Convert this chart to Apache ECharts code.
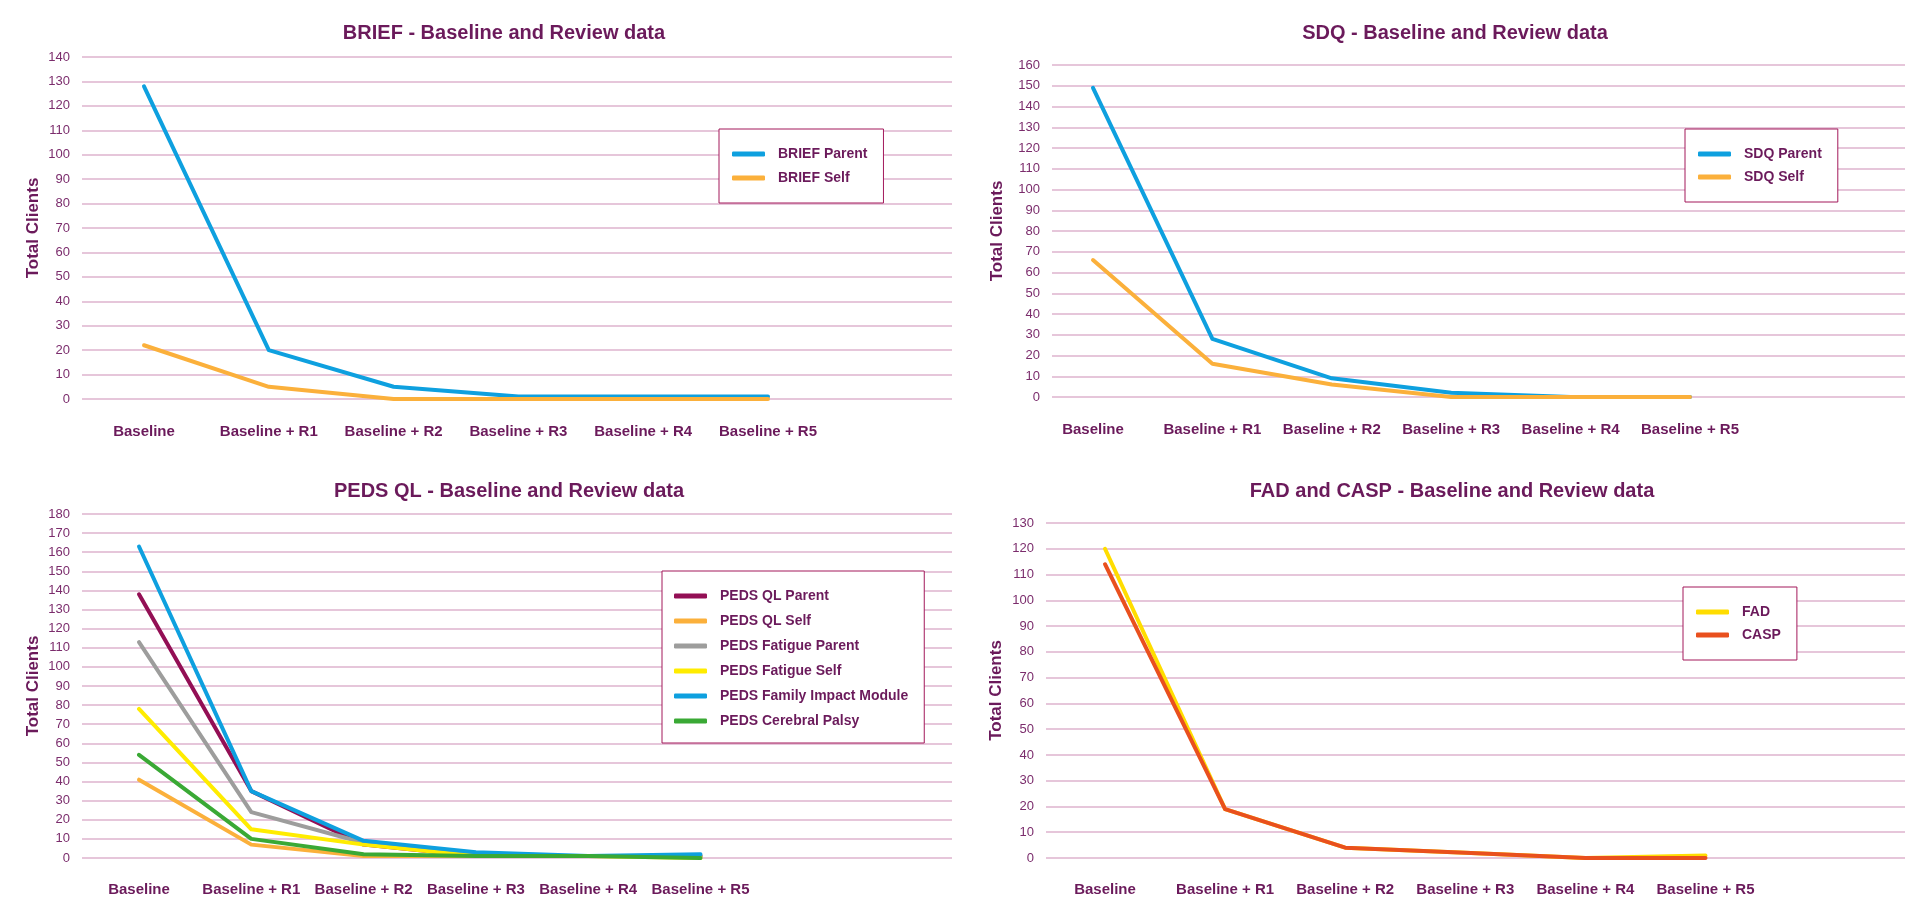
<!DOCTYPE html>
<html>
<head>
<meta charset="utf-8">
<title>Baseline and Review data</title>
<script src="https://cdn.jsdelivr.net/npm/echarts@6/dist/echarts.min.js"></script>
<style>
  html, body { margin: 0; padding: 0; background: #ffffff; }
  #chart { width: 1905px; height: 898px; }
</style>
</head>
<body>
<div id="chart"></div>
<script>
// Review points shared by all four panels
const categories = ['Baseline', 'Baseline + R1', 'Baseline + R2', 'Baseline + R3', 'Baseline + R4', 'Baseline + R5'];

// BRIEF
const briefParent = [128, 20, 5, 1, 1, 1];
const briefSelf = [22, 5, 0, 0, 0, 0];

// SDQ
const sdqParent = [149, 28, 9, 2, 0, 0];
const sdqSelf = [66, 16, 6, 0, 0, 0];

// PEDS QL
const pedsQlParent = [138, 35, 7, 1, 1, 1];
const pedsQlSelf = [41, 7, 1, 1, 1, 1];
const pedsFatigueParent = [113, 24, 8, 1, 1, 1];
const pedsFatigueSelf = [78, 15, 7, 1, 1, 0];
const pedsFamilyImpact = [163, 35, 9, 3, 1, 2];
const pedsCerebralPalsy = [54, 10, 2, 1, 1, 0];

// FAD and CASP
const fad = [120, 19, 4, 2, 0, 1];
const casp = [114, 19, 4, 2, 0, 0];

// Value-axis ceilings (ticks every 10 from 0)
const yMaxes = [140, 160, 180, 130];
const yStep = 10;

const FONT = '"Liberation Sans", Arial, sans-serif';
const TEXT = '#6b1a5b';
const TICK = '#7b2c6c';
const GRIDLINE = '#e6c6da';
const BOX = '#a3195b';

const panels = [
  {
    title: 'BRIEF - Baseline and Review data', titleX: 504, titleY: 23,
    frame: { left: 82, top: 57, right: 952, bottom: 399 },
    plot: { first: 144, step: 124.8 },
    labelMargin: 25, nameGap: 40,
    legend: { left: 719, top: 129, padding: [18, 16, 18, 13], itemGap: 10 },
    series: [
      { name: 'BRIEF Parent', data: briefParent, color: '#0ea0df' },
      { name: 'BRIEF Self', data: briefSelf, color: '#fbb03b' }
    ]
  },
  {
    title: 'SDQ - Baseline and Review data', titleX: 1455, titleY: 23,
    frame: { left: 1052, top: 65, right: 1905, bottom: 397 },
    plot: { first: 1093, step: 119.4 },
    labelMargin: 25, nameGap: 46,
    legend: { left: 1685, top: 129, padding: [18, 16, 18, 13], itemGap: 9 },
    series: [
      { name: 'SDQ Parent', data: sdqParent, color: '#0ea0df' },
      { name: 'SDQ Self', data: sdqSelf, color: '#fbb03b' }
    ]
  },
  {
    title: 'PEDS QL - Baseline and Review data', titleX: 509, titleY: 481,
    frame: { left: 82, top: 514, right: 952, bottom: 858 },
    plot: { first: 139, step: 112.3 },
    labelMargin: 24, nameGap: 40,
    legend: { left: 662, top: 571, padding: [18, 16, 15, 12], itemGap: 11 },
    series: [
      { name: 'PEDS QL Parent', data: pedsQlParent, color: '#930f55' },
      { name: 'PEDS QL Self', data: pedsQlSelf, color: '#fbb03b' },
      { name: 'PEDS Fatigue Parent', data: pedsFatigueParent, color: '#9d9d9c' },
      { name: 'PEDS Fatigue Self', data: pedsFatigueSelf, color: '#ffec00' },
      { name: 'PEDS Family Impact Module', data: pedsFamilyImpact, color: '#0ea0df' },
      { name: 'PEDS Cerebral Palsy', data: pedsCerebralPalsy, color: '#3aa935' }
    ]
  },
  {
    title: 'FAD and CASP - Baseline and Review data', titleX: 1452, titleY: 481,
    frame: { left: 1046, top: 523, right: 1905, bottom: 858 },
    plot: { first: 1105, step: 120.1 },
    labelMargin: 24, nameGap: 41,
    legend: { left: 1683, top: 587, padding: [18, 16, 18, 13], itemGap: 9 },
    series: [
      { name: 'FAD', data: fad, color: '#ffdd00' },
      { name: 'CASP', data: casp, color: '#e9501e' }
    ]
  }
];

const option = {
  backgroundColor: '#ffffff',
  animation: false,
  title: [], legend: [], grid: [], xAxis: [], yAxis: [], series: []
};

panels.forEach((p, i) => {
  const frameIdx = 2 * i;
  const plotIdx = 2 * i + 1;
  const f = p.frame;
  const yMax = yMaxes[i];

  option.title.push({
    text: p.title,
    left: p.titleX, top: p.titleY, textAlign: 'center', padding: 0,
    textStyle: { fontFamily: FONT, fontSize: 20, fontWeight: 'bold', color: TEXT, lineHeight: 20 }
  });

  // Frame grid: value axis, tick labels and horizontal gridlines
  option.grid.push({
    left: f.left, top: f.top, width: f.right - f.left, height: f.bottom - f.top,
    containLabel: false, outerBoundsMode: 'none'
  });
  // Plot grid: category positions for the lines
  option.grid.push({
    left: p.plot.first - p.plot.step / 2, top: f.top,
    width: p.plot.step * categories.length, height: f.bottom - f.top,
    containLabel: false, outerBoundsMode: 'none'
  });

  option.xAxis.push({
    type: 'category', gridIndex: frameIdx, data: categories, show: false
  });
  option.xAxis.push({
    type: 'category', gridIndex: plotIdx, data: categories, boundaryGap: true,
    axisLine: { show: false }, axisTick: { show: false }, splitLine: { show: false },
    axisLabel: {
      margin: p.labelMargin, interval: 0,
      fontFamily: FONT, fontSize: 15, fontWeight: 'bold', color: TEXT
    }
  });

  option.yAxis.push({
    type: 'value', gridIndex: frameIdx, min: 0, max: yMax, interval: yStep,
    name: 'Total Clients', nameLocation: 'middle', nameGap: p.nameGap, nameRotate: 90,
    nameTextStyle: { fontFamily: FONT, fontSize: 17, fontWeight: 'bold', color: TEXT },
    axisLine: { show: false }, axisTick: { show: false },
    axisLabel: { margin: 12, fontFamily: FONT, fontSize: 13, color: TICK },
    splitLine: { show: true, lineStyle: { color: GRIDLINE, width: 2 } }
  });
  option.yAxis.push({
    type: 'value', gridIndex: plotIdx, min: 0, max: yMax, interval: yStep, show: false,
    splitLine: { show: false }
  });

  p.series.forEach(s => {
    option.series.push({
      type: 'line', name: s.name, data: s.data,
      xAxisIndex: plotIdx, yAxisIndex: plotIdx,
      symbol: 'none', showSymbol: false, smooth: false,
      color: s.color,
      lineStyle: { color: s.color, width: 4, cap: 'round', join: 'round' },
      emphasis: { disabled: true }
    });
  });

  option.legend.push({
    data: p.series.map(s => s.name),
    orient: 'vertical', left: p.legend.left, top: p.legend.top,
    padding: p.legend.padding, itemGap: p.legend.itemGap,
    itemWidth: 33, itemHeight: 5, icon: 'roundRect',
    borderColor: BOX, borderWidth: 1, backgroundColor: '#ffffff',
    selectedMode: false,
    textStyle: {
      fontFamily: FONT, fontSize: 14, fontWeight: 'bold', color: TEXT,
      lineHeight: 14, padding: [0, 0, 0, 8]
    }
  });
});

const chart = echarts.init(document.getElementById('chart'), null, { renderer: 'canvas' });
chart.setOption(option);
</script>
</body>
</html>
